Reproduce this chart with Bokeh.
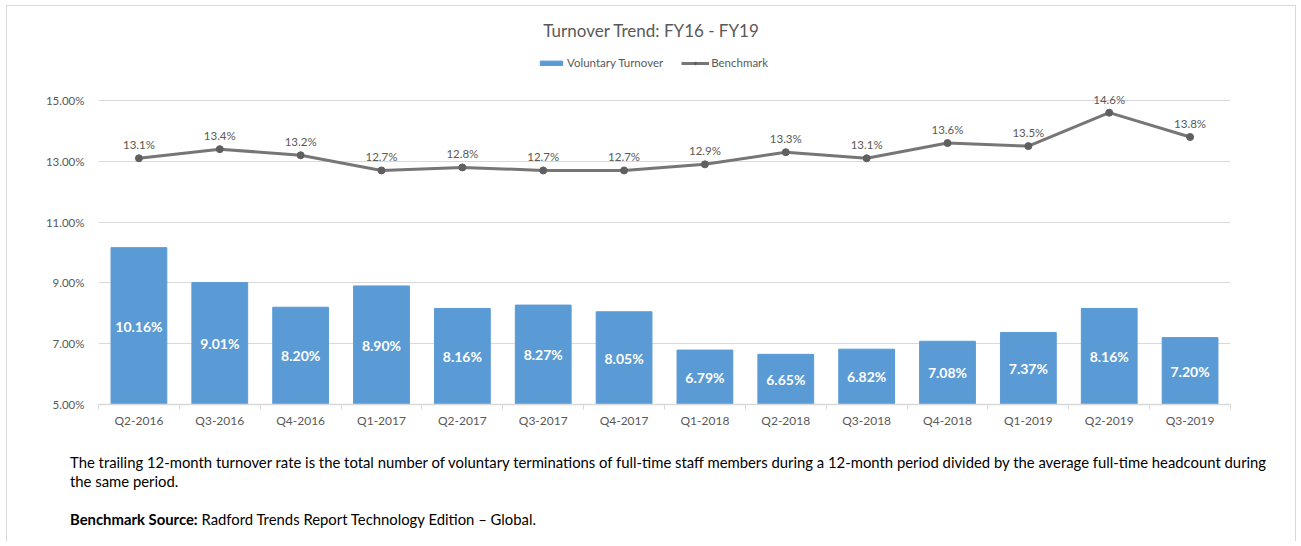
from bokeh.plotting import figure
from bokeh.models import (ColumnDataSource, FixedTicker, PrintfTickFormatter, Label,
                          Legend, LegendItem, Div, Range1d, LinearAxis)
from bokeh.layouts import column
from bokeh.embed import file_html
from bokeh.resources import INLINE
from bokeh.core.properties import value

categories = ["Q2-2016", "Q3-2016", "Q4-2016", "Q1-2017", "Q2-2017", "Q3-2017", "Q4-2017",
              "Q1-2018", "Q2-2018", "Q3-2018", "Q4-2018", "Q1-2019", "Q2-2019", "Q3-2019"]
voluntary = [10.16, 9.01, 8.20, 8.90, 8.16, 8.27, 8.05, 6.79, 6.65, 6.82, 7.08, 7.37, 8.16, 7.20]
benchmark = [13.1, 13.4, 13.2, 12.7, 12.8, 12.7, 12.7, 12.9, 13.3, 13.1, 13.6, 13.5, 14.6, 13.8]
y_ticks = [5, 7, 9, 11, 13, 15]
y_min, y_max = 5, 15
y_view_top = 18.06  # extra headroom inside the frame for title and legend

FONT = "Lato"
TXT = "#595959"

n = len(categories)
centers = [i + 0.5 for i in range(n)]       # category slot centres
boundaries = list(range(n + 1))             # category slot edges

src = ColumnDataSource(dict(
    x=centers,
    vol=voluntary,
    mid=[(y_min + v) / 2 for v in voluntary],
    vol_lbl=[f"{v:.2f}%" for v in voluntary],
    bench=benchmark,
    bench_lbl=[f"{b:.1f}%" for b in benchmark],
))

p = figure(x_range=Range1d(0, n), y_range=Range1d(y_min, y_view_top), width=1290, height=428,
           output_backend="svg", toolbar_location=None,
           min_border_left=91, min_border_right=65, min_border_top=1, min_border_bottom=30)
p.outline_line_color = None
p.background_fill_color = "white"

bars = p.vbar(x="x", top="vol", bottom=y_min, width=0.69, source=src,
              fill_color="#5b9bd5", line_color="#5b9bd5")
p.text(x="x", y="mid", text="vol_lbl", source=src, text_align="center",
       text_baseline="middle", text_color="white", text_font=value(FONT),
       text_font_style="bold", text_font_size="14px")

line = p.line(x="x", y="bench", source=src, line_color="#767676", line_width=3)
pts = p.scatter(x="x", y="bench", source=src, size=7, fill_color="#5f5f5f",
                line_color="#5f5f5f")
p.text(x="x", y="bench", text="bench_lbl", source=src, text_align="center",
       text_baseline="bottom", y_offset=-7, text_color=TXT, text_font=value(FONT),
       text_font_size="11.5px")

# y axis
p.yaxis.ticker = FixedTicker(ticks=y_ticks)
p.yaxis.formatter = PrintfTickFormatter(format="%.2f%%")
p.yaxis.axis_line_color = None
p.yaxis.major_tick_line_color = None
p.yaxis.minor_tick_line_color = None
p.yaxis.major_label_standoff = 8
p.yaxis.major_label_text_font = FONT
p.yaxis.major_label_text_font_size = "11.5px"
p.yaxis.major_label_text_color = TXT

# category label axis (labels only, at slot centres)
xa = p.xaxis[0]
xa.ticker = FixedTicker(ticks=centers)
xa.major_label_overrides = {c: lbl for c, lbl in zip(centers, categories)}
xa.axis_line_color = None
xa.major_tick_line_color = None
xa.minor_tick_line_color = None
xa.major_tick_out = 0
xa.major_tick_in = 0
xa.major_label_standoff = 3
xa.major_label_text_font = FONT
xa.major_label_text_font_size = "12px"
xa.major_label_text_color = TXT

# axis line with tick marks between categories
tick_axis = LinearAxis(ticker=FixedTicker(ticks=boundaries),
                       axis_line_color="#d9d9d9", axis_line_width=1.5,
                       major_tick_line_color="#d9d9d9", major_tick_line_width=1,
                       major_tick_out=5, major_tick_in=0, minor_tick_line_color=None,
                       major_label_text_font_size="0px", major_label_standoff=0,
                       major_label_text_alpha=0)
p.below.insert(0, tick_axis)

p.xgrid.grid_line_color = None
p.ygrid.grid_line_color = "#d9d9d9"

# title (inside the frame's headroom)
p.add_layout(Label(x=553, y=374, x_units="screen", y_units="screen",
                   text="Turnover Trend: FY16 - FY19", text_align="center",
                   text_baseline="middle", text_font=FONT, text_font_size="17px",
                   text_color=TXT))

legend = Legend(items=[LegendItem(label="Voluntary Turnover", renderers=[bars]),
                       LegendItem(label="Benchmark", renderers=[line, pts])],
                orientation="horizontal", location=(439, 335), padding=0, margin=0,
                spacing=18, glyph_width=28, glyph_height=6, label_height=12,
                label_standoff=2, label_text_font=FONT, label_text_font_size="11.5px",
                label_text_color=TXT, border_line_color=None, background_fill_alpha=0)
p.add_layout(legend, "center")

footer_html = (
    '<div style="font-family: Lato, sans-serif; font-size: 14.85px; line-height: 19px; '
    'color: #000; padding: 14px 0 0 58px; margin: 0; white-space: nowrap;">'
    'The trailing 12-month turnover rate is the total number of voluntary terminations of '
    'full-time staff members during a 12-month period divided by the average full-time '
    'headcount during<br>the same period.<br><br>'
    '<b>Benchmark Source:</b> Radford Trends Report Technology Edition \u2013 Global.</div>'
)
div = Div(text=footer_html, width=1290, height=108)

layout = column(p, div, width=1290, height=536, sizing_mode="fixed",
                styles={"border": "1px solid #d9d9d9", "border-bottom": "none",
                        "background": "white",
                        "margin-left": "6px", "margin-top": "5px"})

open("out.html", "w").write(file_html(layout, INLINE))
